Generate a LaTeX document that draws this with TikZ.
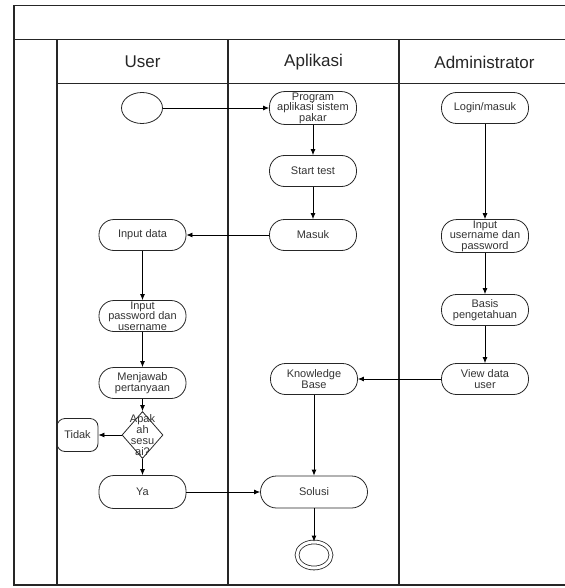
\documentclass[tikz,border=0pt]{standalone}
\usepackage{fontspec}
\setmainfont{Liberation Sans}
\usetikzlibrary{arrows.meta,positioning,shapes.geometric}

\tikzset{
  act/.style={draw=black!85, rounded corners=15pt, minimum width=87pt,
    minimum height=31pt, inner sep=1pt, align=center, text=black!80,
    font=\fontsize{11}{10.5}\selectfont},
  lanetitle/.style={text=black!85, font=\fontsize{17}{20}\selectfont},
  lane/.style={draw=black!85, line width=1.2pt},
}

\begin{document}
\begin{tikzpicture}[x=1pt, y=-1pt, on grid, line width=0.8pt,
    >={Latex[length=6pt,width=5pt]}]
    \useasboundingbox (0,0) rectangle (564,588);

    % swimlanes
    \draw[lane] (14,5.5) rectangle (575,585);
    \draw[lane] (14,39.5) -- (575,39.5);
    \draw[lane] (57,83.5) -- (575,83.5);
    \foreach \x in {57,228,399}
        \draw[lane] (\x,39.5) -- (\x,585);

    \node[lanetitle] (tUser) at (142.5,62) {User};
    \node[lanetitle] (tApp) at (313.5,62) {Aplikasi};
    \node[lanetitle] (tAdm) at (484.5,62) {Administrator};

    % nodes
    \node[draw=black!85, ellipse, minimum width=41pt, minimum height=31pt, inner sep=0pt] (start) at (142,108) {};
    \node[act] (prog) [right=171pt of start] {Program\\aplikasi sistem\\pakar};
    \node[act] (test) [below=63pt of prog] {Start test};
    \node[act] (masuk) [below=64pt of test] {Masuk};
    \node[act] (indata) [left=170.5pt of masuk] {Input data};
    \node[act] (inpass) [below=81pt of indata] {Input\\password dan\\username};
    \node[act] (jawab) [below=67pt of inpass] {Menjawab\\pertanyaan};
    \node[draw=black!85, diamond, minimum width=41pt, minimum height=47pt, inner sep=0pt,
        label={[text=black!80, align=center, font=\fontsize{11}{11}\selectfont]center:Apak\\ah\\sesu\\ai?}]
        (cek) [below=52pt of jawab] {};
    \node[act, rounded corners=8pt, minimum width=41pt, minimum height=33pt] (tidak) [left=65pt of cek] {Tidak};
    \node[act, minimum height=33pt] (ya) [below=57pt of cek] {Ya};

    \node[act] (login) [right=172pt of prog] {Login/masuk};
    \node[act] (inuser) [below=128pt of login] {Input\\username dan\\password};
    \node[act] (basis) [below=74pt of inuser] {Basis\\pengetahuan};
    \node[act] (view) [below=69pt of basis] {View data\\user};
    \node[act] (kb) [left=171pt of view] {Knowledge\\Base};
    \node[act, minimum width=107pt, minimum height=32pt, rounded corners=16pt] (solusi) [below=113pt of kb] {Solusi};
    \node[draw=black!85, ellipse, double, double distance=3pt, minimum width=34pt,
        minimum height=26pt, inner sep=0pt] (end) [below=63pt of solusi] {};

    % flows
    \draw[->] (start) -- (prog);
    \draw[->] (prog) -- (test);
    \draw[->] (test) -- (masuk);
    \draw[->] (masuk) -- (indata);
    \draw[->] (indata) -- (inpass);
    \draw[->] (inpass) -- (jawab);
    \draw[->] (jawab) -- (cek);
    \draw[->] (cek) -- (tidak);
    \draw[->] (cek) -- (ya);
    \draw[->] (ya) -- (solusi);
    \draw[->] (login) -- (inuser);
    \draw[->] (inuser) -- (basis);
    \draw[->] (basis) -- (view);
    \draw[->] (view) -- (kb);
    \draw[->] (kb) -- (solusi);
    \draw[->] (solusi) -- (end);
\end{tikzpicture}
\end{document}
